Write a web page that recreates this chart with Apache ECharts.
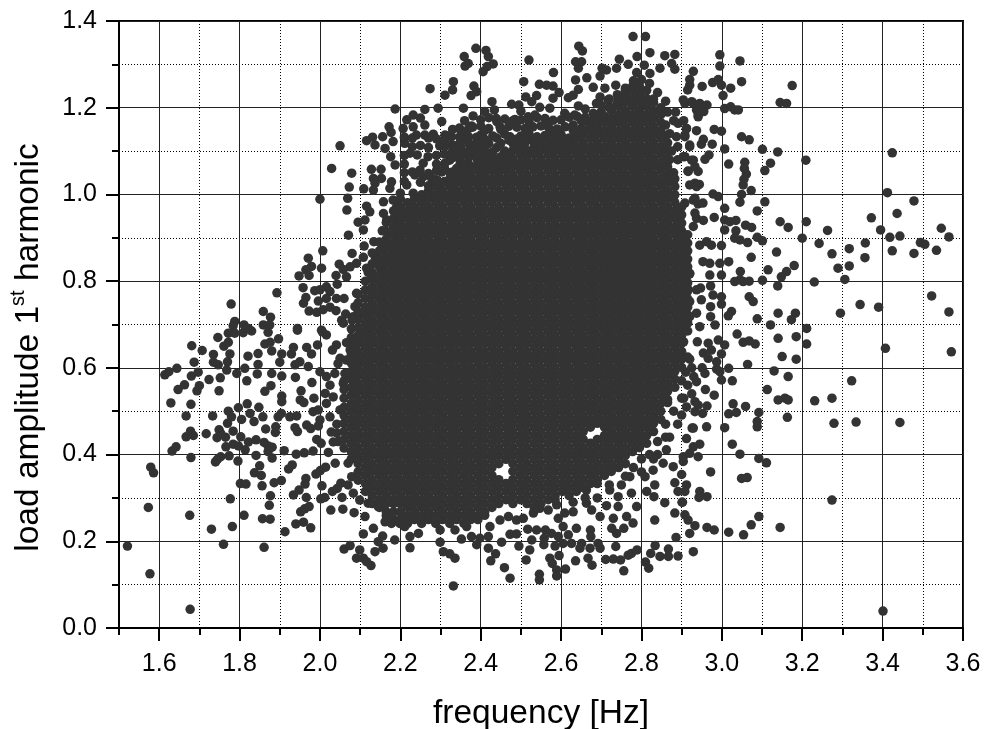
<!DOCTYPE html>
<html><head><meta charset="utf-8">
<script src="https://cdn.jsdelivr.net/npm/echarts@6/dist/echarts.min.js"></script>
<style>html,body{margin:0;padding:0;background:#fff}#c{width:984px;height:729px}</style>
</head><body><div id="c"></div>
<script>
const xMajorTicks=[1.6,1.8,2.0,2.2,2.4,2.6,2.8,3.0,3.2,3.4,3.6];
const leftBottom=[[1.521,.189],[1.577,.125],[1.677,.043],[1.573,.278],[1.676,.26],[1.579,.371],[1.586,.358],[1.73,.228],[1.782,.234],[1.76,.193],[1.777,.298],[1.811,.26],[1.861,.186],[1.857,.252],[1.876,.251],[1.874,.283],[1.877,.305],[1.913,.222],[1.94,.24],[1.959,.244],[1.977,.231],[1.952,.268],[1.962,.275],[1.973,.28],[1.934,.307],[1.948,.318],[1.966,.301],[1.965,.345],[1.963,.332],[1.99,.355],[2.001,.363],[2.014,.371],[2.005,.328],[2.002,.298],[2.012,.301],[2.027,.272],[2.057,.274],[2.085,.266],[2.031,.315],[2.043,.322],[2.052,.334],[2.055,.301],[1.904,.34],[1.886,.335],[1.856,.328],[1.802,.333],[1.816,.332],[1.837,.358],[1.854,.352],[1.85,.374],[1.922,.367],[1.931,.376],[1.881,.392],[1.841,.398],[1.796,.385],[1.774,.397],[1.753,.395],[1.74,.383],[1.745,.389],[1.679,.393],[2.06,.182],[2.075,.19],[2.099,.18],[2.091,.161],[2.108,.161],[2.127,.144],[2.116,.153],[2.137,.176],[2.157,.184],[2.186,.203],[2.108,.217],[2.133,.23],[2.145,.199],[2.156,.212],[2.162,.245],[2.178,.241],[2.112,.257],[2.199,.241],[2.07,.38],[2.079,.349],[2.07,.33],[2.095,.341],[2.083,.311],[2.099,.295],[2.12,.288],[2.145,.28],[2.038,.38]];
const leftMiddle=[[1.632,.408],[1.642,.418],[1.667,.441],[1.678,.454],[1.685,.444],[1.717,.448],[1.744,.439],[1.749,.457],[1.765,.44],[1.753,.449],[1.784,.424],[1.797,.42],[1.766,.418],[1.814,.411],[1.803,.441],[1.822,.429],[1.841,.434],[1.861,.428],[1.871,.42],[1.881,.417],[1.871,.407],[1.911,.409],[1.941,.401],[1.961,.404],[1.983,.408],[2.021,.405],[1.992,.435],[2.003,.426],[2.028,.452],[2.033,.429],[1.889,.451],[1.89,.464],[1.865,.459],[1.938,.462],[1.944,.453],[1.967,.468],[1.977,.46],[1.996,.466],[1.784,.454],[1.77,.472],[1.78,.487],[1.772,.5],[1.733,.489],[1.667,.489],[1.629,.519],[1.679,.516],[1.797,.508],[1.805,.481],[1.819,.517],[1.826,.495],[1.836,.476],[1.848,.509],[1.858,.487],[1.896,.487],[1.904,.495],[1.925,.487],[1.942,.489],[1.983,.499],[1.996,.503],[2.0,.48],[1.905,.535],[1.905,.522],[1.953,.547],[1.951,.526],[1.96,.52],[1.985,.53],[2.016,.518],[1.98,.566],[2.013,.541],[1.647,.55],[1.663,.561],[1.694,.547],[1.7,.559],[1.749,.547],[1.724,.573],[1.752,.577],[1.863,.546],[1.878,.559],[1.614,.584],[1.624,.591],[1.644,.599],[1.68,.581],[1.697,.59],[1.687,.613],[1.681,.651],[1.707,.64],[1.735,.631],[1.735,.613],[1.747,.607],[1.77,.614],[1.768,.595],[1.793,.587],[1.818,.57],[1.813,.599],[1.844,.586],[1.846,.608],[1.88,.587],[1.905,.581],[1.939,.578],[1.9,.613],[1.905,.632],[1.846,.633],[1.821,.627],[1.88,.639],[1.863,.655],[1.876,.659],[1.897,.667],[1.776,.632],[1.761,.65],[1.772,.659],[1.746,.67],[1.772,.68],[1.788,.68],[1.809,.681],[1.83,.685],[1.871,.682],[1.944,.687],[1.934,.647],[1.929,.632],[1.938,.607],[1.95,.614],[1.971,.603],[1.967,.647],[1.979,.632],[1.994,.653],[2.0,.591],[2.016,.58],[2.037,.587],[2.031,.641],[2.041,.653],[2.05,.622],[2.016,.676],[2.006,.683],[2.066,.658],[2.095,.668],[2.112,.68],[2.045,.61],[2.062,.587],[2.058,.564],[2.025,.56],[2.033,.533],[2.05,.503],[2.025,.487],[2.075,.641],[2.091,.657],[2.066,.618]];
const leftTop=[[2.187,1.197],[2.172,1.156],[2.177,1.143],[2.05,1.112],[2.116,1.124],[2.131,1.132],[2.137,1.114],[2.156,1.133],[2.162,1.106],[2.182,1.122],[2.176,1.087],[2.187,1.068],[2.029,1.06],[2.079,1.049],[2.128,1.058],[2.152,1.058],[2.133,1.037],[2.153,1.037],[2.137,1.026],[2.178,1.029],[2.073,1.017],[2.109,1.013],[2.133,1.01],[2.174,1.014],[2.0,.989],[2.069,.991],[2.067,.964],[2.116,.973],[2.124,.96],[2.158,.983],[2.182,.987],[2.191,.972],[2.095,.936],[2.112,.941],[2.108,.918],[2.158,.956],[2.166,.941],[2.187,.941],[2.155,.916],[2.184,.907],[2.071,.906],[2.007,.87],[2.11,.881],[2.134,.891],[2.153,.887],[2.08,.864],[1.971,.853],[2.004,.83],[1.979,.834],[1.965,.826],[1.948,.812],[1.973,.813],[2.048,.839],[2.108,.855],[2.091,.841],[2.075,.833],[2.058,.827],[2.04,.813],[2.116,.83],[2.137,.857],[1.958,.785],[1.893,.773],[1.779,.747],[1.987,.778],[2.016,.787],[2.0,.78],[2.025,.776],[2.043,.793],[2.066,.81],[2.091,.772],[1.965,.762],[1.959,.749],[1.996,.754],[2.016,.76],[2.041,.76],[2.06,.76],[1.973,.731],[1.992,.728],[2.008,.734],[2.025,.74],[2.04,.732],[2.087,.741],[1.859,.73],[1.877,.717],[2.064,.724],[2.054,.71],[2.058,.703],[2.083,.718],[1.788,.707],[1.784,.697],[1.811,.699],[1.822,.691],[1.859,.699],[1.875,.699],[1.944,.691],[2.004,.687]];
const rightTop=[[2.995,1.322],[3.045,1.308],[2.995,1.296],[2.929,1.284],[2.92,1.265],[2.92,1.252],[2.915,1.241],[2.951,1.249],[2.977,1.258],[2.991,1.265],[2.999,1.252],[3.022,1.245],[3.049,1.26],[3.175,1.251],[3.003,1.228],[3.145,1.212],[3.161,1.21],[3.007,1.198],[3.022,1.202],[3.032,1.195],[3.041,1.195],[2.945,1.21],[2.963,1.206],[2.955,1.191],[2.941,1.179],[2.937,1.195],[2.908,1.21],[2.925,1.214],[2.912,1.152],[2.937,1.147],[2.981,1.15],[2.999,1.146],[3.049,1.133],[3.068,1.126],[2.954,1.127],[2.908,1.133],[2.976,1.116],[2.949,1.116],[2.92,1.114],[3.007,1.105],[3.101,1.104],[3.139,1.098],[3.424,1.096],[3.209,1.079],[2.958,1.081],[2.968,1.091],[2.925,1.079],[2.908,1.087],[3.017,1.07],[3.057,1.074],[3.056,1.06],[3.121,1.072],[3.107,1.055],[3.061,1.047],[2.941,1.053],[2.916,1.054],[3.055,1.035],[3.053,1.022],[2.933,1.026],[2.944,1.023],[3.073,1.009],[3.049,1.0],[3.045,.982],[3.107,.983],[3.412,1.004],[3.478,.985],[3.436,.956],[3.088,.962],[3.007,.968],[2.978,1.001],[2.991,.995],[2.933,.991],[2.941,.978],[2.953,.98],[2.908,.98],[2.981,.947],[2.937,.945],[2.954,.94],[3.007,.941],[3.02,.937],[3.035,.94],[3.007,.918],[3.035,.916],[3.059,.929],[3.074,.924],[3.145,.937],[3.165,.924],[3.21,.937],[3.263,.917],[3.372,.946],[3.395,.918],[3.546,.922],[3.565,.902],[3.418,.901],[3.443,.904],[3.2,.899],[3.101,.893],[3.088,.901],[3.064,.889],[3.045,.895],[3.032,.899],[3.242,.887],[3.357,.888],[3.317,.875],[3.274,.863],[3.356,.854],[3.424,.87],[3.478,.864],[3.494,.889],[3.505,.885],[3.534,.871],[3.136,.867],[3.073,.855],[3.017,.845],[2.999,.882],[2.962,.891],[2.974,.883],[2.945,.883],[3.18,.836],[3.161,.822],[3.148,.81],[3.115,.826],[3.046,.822],[3.045,.803],[3.032,.799],[3.053,.799],[3.068,.8],[3.101,.802],[3.139,.789],[3.23,.798],[3.289,.83],[3.317,.835],[3.306,.804],[2.999,.814],[2.97,.814],[2.995,.841],[2.97,.841],[2.953,.845],[2.92,.817],[2.947,.784],[2.972,.789],[2.916,.781],[2.999,.764],[2.978,.768],[3.068,.764],[3.078,.753],[3.522,.766],[2.999,.747],[2.972,.741],[2.949,.757],[2.92,.753],[3.344,.746],[3.39,.74],[3.565,.729],[3.295,.726],[3.14,.726],[3.183,.726],[3.173,.711],[3.024,.73],[3.016,.72],[3.088,.713],[3.121,.699],[3.211,.691],[2.972,.718],[2.983,.699],[2.945,.695],[2.92,.718],[2.937,.726]];
const rightBottom=[[3.407,.645],[3.571,.637],[3.14,.668],[3.185,.672],[3.211,.655],[3.038,.678],[3.053,.659],[3.068,.662],[3.083,.655],[3.007,.653],[2.991,.664],[2.966,.657],[2.939,.66],[2.954,.634],[2.974,.641],[2.999,.632],[2.92,.62],[2.966,.622],[2.987,.614],[3.15,.626],[3.185,.62],[3.064,.608],[3.017,.599],[2.951,.6],[2.987,.597],[2.995,.591],[3.13,.593],[3.165,.58],[3.323,.57],[3.026,.57],[2.999,.572],[2.958,.587],[2.937,.568],[2.959,.55],[2.981,.537],[3.113,.55],[3.14,.526],[3.157,.53],[3.165,.526],[3.231,.524],[3.274,.53],[3.028,.517],[3.059,.511],[2.963,.512],[2.933,.522],[2.941,.514],[2.912,.51],[3.092,.497],[3.017,.494],[3.036,.497],[2.952,.495],[2.933,.499],[2.9,.491],[3.163,.486],[3.088,.476],[3.088,.464],[3.279,.472],[3.334,.475],[3.443,.474],[3.007,.462],[2.962,.464],[2.926,.461],[3.026,.424],[2.945,.424],[2.912,.437],[2.929,.418],[3.045,.401],[3.092,.391],[3.111,.381],[2.941,.395],[2.92,.403],[2.904,.384],[2.972,.36],[3.049,.345],[3.063,.347],[2.9,.354],[2.912,.33],[2.908,.315],[2.945,.315],[2.963,.303],[2.943,.301],[3.274,.295],[2.902,.29],[2.908,.261],[2.916,.249],[2.933,.236],[2.963,.232],[2.981,.226],[2.92,.218],[3.017,.221],[3.054,.215],[3.073,.238],[3.092,.257],[3.145,.232],[2.929,.176],[3.401,.039],[2.905,.66],[2.915,.625],[2.925,.6],[2.93,.58],[2.915,.56],[2.905,.53],[2.925,.54]];
const lowerEdge=[[2.332,.097],[2.224,.185],[2.299,.198],[2.307,.176],[2.323,.171],[2.336,.161],[2.352,.205],[2.39,.192],[2.419,.184],[2.437,.171],[2.425,.155],[2.452,.198],[2.459,.139],[2.473,.115],[2.495,.189],[2.513,.157],[2.522,.18],[2.527,.203],[2.546,.124],[2.546,.111],[2.572,.161],[2.578,.149],[2.589,.134],[2.589,.12],[2.595,.167],[2.611,.136],[2.636,.155],[2.557,.192],[2.585,.189],[2.605,.195],[2.626,.195],[2.651,.195],[2.647,.184],[2.672,.184],[2.692,.195],[2.697,.184],[2.667,.161],[2.677,.145],[2.711,.158],[2.73,.159],[2.736,.188],[2.748,.157],[2.767,.168],[2.775,.172],[2.789,.18],[2.756,.132],[2.81,.152],[2.818,.138],[2.823,.172],[2.834,.19],[2.846,.165],[2.867,.165],[2.867,.182],[2.891,.166],[2.886,.209],[2.833,.249],[2.883,.265],[2.858,.289],[2.901,.29],[2.831,.303],[2.813,.315],[2.833,.33],[2.891,.315],[2.883,.335],[2.448,.249],[2.469,.257],[2.489,.249],[2.506,.253],[2.473,.216],[2.489,.217],[2.517,.228],[2.539,.226],[2.561,.226],[2.576,.218],[2.558,.207],[2.531,.265],[2.547,.276],[2.568,.272],[2.589,.284],[2.593,.253],[2.609,.265],[2.63,.268],[2.605,.234],[2.618,.215],[2.638,.23],[2.593,.211],[2.673,.226],[2.674,.211],[2.663,.288],[2.676,.272],[2.697,.257],[2.713,.282],[2.73,.253],[2.726,.23],[2.738,.218],[2.756,.23],[2.763,.257],[2.779,.242],[2.742,.28],[2.775,.311],[2.788,.28],[2.721,.318],[2.742,.303],[2.771,.349],[2.809,.349],[2.663,.318],[2.365,.234],[2.377,.211],[2.398,.207],[2.419,.211],[2.336,.226],[2.299,.226],[2.245,.218],[2.224,.211],[2.211,.234],[2.423,.234],[2.862,.411],[2.904,.395],[2.929,.461],[2.829,.364],[2.854,.38],[2.879,.372],[2.86,.47],[2.88,.5],[2.9,.53],[2.89,.47],[2.87,.44],[2.84,.43],[2.82,.4],[2.8,.39],[2.78,.37],[2.76,.35],[2.9,.57],[2.91,.59],[2.8,.36],[2.84,.4],[2.75,.33],[2.72,.33],[2.69,.3],[2.66,.3],[2.63,.29],[2.86,.44],[2.83,.39]];
const upperEdge=[[2.388,1.337],[2.359,1.318],[2.369,1.302],[2.361,1.296],[2.413,1.332],[2.419,1.318],[2.431,1.301],[2.416,1.295],[2.406,1.283],[2.274,1.244],[2.332,1.26],[2.33,1.241],[2.311,1.229],[2.383,1.25],[2.39,1.237],[2.376,1.228],[2.294,1.199],[2.261,1.196],[2.357,1.199],[2.428,1.214],[2.434,1.195],[2.52,1.31],[2.507,1.26],[2.546,1.254],[2.564,1.252],[2.58,1.25],[2.581,1.281],[2.595,1.235],[2.512,1.225],[2.539,1.228],[2.527,1.214],[2.477,1.208],[2.495,1.206],[2.5,1.192],[2.547,1.201],[2.572,1.199],[2.58,1.222],[2.644,1.342],[2.653,1.331],[2.636,1.306],[2.651,1.306],[2.643,1.291],[2.636,1.264],[2.664,1.269],[2.618,1.223],[2.63,1.229],[2.643,1.242],[2.68,1.247],[2.697,1.273],[2.702,1.291],[2.713,1.287],[2.738,1.291],[2.745,1.312],[2.767,1.3],[2.779,1.364],[2.81,1.364],[2.821,1.327],[2.789,1.318],[2.807,1.298],[2.788,1.281],[2.858,1.32],[2.883,1.323],[2.875,1.302],[2.883,1.289],[2.846,1.291],[2.821,1.279],[2.736,1.252],[2.709,1.245],[2.697,1.225],[2.717,1.218],[2.688,1.21],[2.643,1.204],[2.609,1.187],[2.634,1.183],[2.697,1.187],[2.68,1.187],[2.216,1.172],[2.232,1.183],[2.25,1.176],[2.261,1.16],[2.232,1.156],[2.207,1.152],[2.303,1.168],[2.381,1.181],[2.41,1.191],[2.485,1.173],[2.518,1.179],[2.535,1.183],[2.347,1.153],[2.377,1.158],[2.439,1.175],[2.564,1.159],[2.593,1.145],[2.211,1.118],[2.24,1.137],[2.261,1.137],[2.282,1.139],[2.311,1.137],[2.298,1.112],[2.328,1.133],[2.328,1.114],[2.348,1.133],[2.224,1.095],[2.242,1.091],[2.269,1.087],[2.323,1.079],[2.336,1.087],[2.311,1.072],[2.257,1.072],[2.249,1.056],[2.236,1.045],[2.257,1.041],[2.303,1.052],[2.278,1.037],[2.216,1.022],[2.232,1.003],[2.269,.995],[2.369,1.099],[2.386,1.102],[2.348,1.068],[2.398,1.118],[2.448,1.156],[2.473,1.133],[2.527,1.126],[2.904,1.218],[2.929,1.21],[2.941,1.183],[2.891,1.164],[2.912,1.152],[2.887,1.133],[2.908,1.137],[2.92,1.11],[2.904,1.087],[2.929,1.079],[2.916,1.053],[2.933,1.064],[2.92,1.022],[2.937,1.018],[2.929,.987],[2.933,.957],[2.929,.926],[2.92,.818],[2.937,.78]];
const upperFill=[[2.32,1.135],[2.36,1.135],[2.4,1.137],[2.44,1.13],[2.46,1.139],[2.5,1.135],[2.52,1.14],[2.54,1.133],[2.56,1.136],[2.58,1.14],[2.6,1.138],[2.3,1.116],[2.34,1.113],[2.37,1.118],[2.39,1.115],[2.42,1.117],[2.44,1.108],[2.48,1.118],[2.51,1.118],[2.38,1.155],[2.4,1.158],[2.42,1.152],[2.47,1.157],[2.49,1.155],[2.51,1.152],[2.53,1.156],[2.55,1.158],[2.57,1.153],[2.61,1.156],[2.63,1.16],[2.65,1.17],[2.42,1.177],[2.46,1.174],[2.54,1.177],[2.56,1.175],[2.6,1.172],[2.62,1.178],[2.64,1.18],[2.66,1.178],[2.68,1.172],[2.7,1.19],[2.72,1.2],[2.74,1.21],[2.76,1.225],[2.66,1.197],[2.7,1.205],[2.72,1.22],[2.74,1.23],[2.76,1.245],[2.78,1.262],[2.8,1.265],[2.82,1.256],[2.84,1.235],[2.86,1.215],[2.21,1.03],[2.25,1.028],[2.29,1.034],[2.31,1.03],[2.33,1.036],[2.21,1.05],[2.23,1.052],[2.27,1.048],[2.29,1.055],[2.33,1.052],[2.35,1.05],[2.21,1.07],[2.29,1.07],[2.35,1.074],[2.37,1.07],[2.21,1.09],[2.29,1.09],[2.31,1.093],[2.37,1.086],[2.39,1.09],[2.41,1.085],[2.23,1.11],[2.25,1.113],[2.27,1.108],[2.31,1.11],[2.33,1.1],[2.35,1.11],[2.41,1.11],[2.21,1.132],[2.23,1.13],[2.27,1.13],[2.29,1.128],[2.37,1.133],[2.39,1.132],[2.43,1.135],[2.45,1.118],[2.88,1.05],[2.87,1.14],[2.86,1.16],[2.88,1.17],[2.885,1.19],[2.865,1.19],[2.89,1.08],[2.87,1.08],[2.905,1.17],[2.89,1.11],[2.875,1.1],[2.86,1.135],[2.34,1.1],[2.36,1.098],[2.38,1.102],[2.4,1.1],[2.43,1.098],[2.46,1.1],[2.49,1.103],[2.52,1.1],[2.55,1.102],[2.58,1.098],[2.6,1.1],[2.62,1.103],[2.31,1.125],[2.35,1.126],[2.39,1.122],[2.41,1.127],[2.47,1.125],[2.49,1.128],[2.51,1.124],[2.53,1.127],[2.55,1.123],[2.57,1.126],[2.59,1.124],[2.61,1.128],[2.63,1.125],[2.33,1.15],[2.35,1.148],[2.37,1.152],[2.41,1.147],[2.45,1.15],[2.59,1.151],[2.63,1.148],[2.65,1.152],[2.67,1.15],[2.36,1.17],[2.4,1.172],[2.44,1.168],[2.48,1.17],[2.5,1.172],[2.52,1.168],[2.58,1.171],[2.66,1.17],[2.7,1.172],[2.72,1.168],[2.33,1.085],[2.35,1.087],[2.39,1.083],[2.41,1.086],[2.43,1.084],[2.45,1.087],[2.47,1.085],[2.31,1.06],[2.37,1.058],[2.39,1.062],[2.41,1.06],[2.43,1.063],[2.45,1.058]];
const leftFill=[[2.095,.693],[2.095,.712],[2.095,.73],[2.095,.75],[2.095,.77],[2.113,.76],[2.113,.78],[2.113,.8],[2.13,.82],[2.13,.84],[2.148,.85],[2.148,.87],[2.148,.89],[2.165,.915],[2.165,.935],[2.078,.63],[2.078,.65],[2.078,.67],[2.06,.53],[2.06,.55],[2.06,.57],[2.042,.47],[2.042,.45],[2.045,.43],[2.095,.36],[2.078,.39],[2.06,.415],[2.078,.69],[2.08,.71],[2.13,.865],[2.12,.82]];
const coreFreq=[2.06,2.078,2.095,2.113,2.13,2.148,2.165,2.183,2.2,2.218,2.235,2.253,2.27,2.288,2.305,2.323,2.34,2.358,2.375,2.393,2.41,2.428,2.445,2.463,2.48,2.498,2.515,2.533,2.55,2.568,2.585,2.603,2.62,2.638,2.655,2.673,2.69,2.708,2.725,2.743,2.76,2.778,2.795,2.813,2.83,2.848,2.865,2.883,2.9,2.915];
const coreLoad=[
[.435,.453,.472,.49,.509],
[.407,.426,.444,.463,.481,.5,.518,.537,.555,.574,.592,.611],
[.379,.398,.416,.435,.453,.472,.49,.509,.527,.546,.564,.583,.601,.62,.638,.657,.675],
[.315,.333,.352,.37,.389,.407,.426,.444,.463,.481,.5,.518,.537,.555,.574,.592,.611,.629,.648,.666,.685,.703,.722,.74],
[.287,.305,.324,.342,.361,.379,.398,.416,.435,.453,.472,.49,.509,.527,.546,.564,.583,.601,.62,.638,.657,.675,.694,.712,.731,.749,.768,.786,.805],
[.278,.296,.315,.333,.352,.37,.389,.407,.426,.444,.463,.481,.5,.518,.537,.555,.574,.592,.611,.629,.648,.666,.685,.703,.722,.74,.759,.777,.796,.814,.833],
[.259,.268,.287,.305,.324,.342,.361,.379,.398,.416,.435,.453,.472,.49,.509,.527,.546,.564,.583,.601,.62,.638,.657,.675,.694,.712,.731,.749,.768,.786,.805,.823,.842,.86,.879,.897],
[.25,.268,.287,.296,.315,.333,.352,.37,.389,.407,.426,.444,.463,.481,.5,.518,.537,.555,.574,.592,.611,.629,.648,.666,.685,.703,.722,.74,.759,.777,.796,.814,.833,.851,.87,.888,.907,.925,.944,.962],
[.241,.25,.268,.287,.305,.324,.342,.361,.379,.398,.416,.435,.453,.472,.49,.509,.527,.546,.564,.583,.601,.62,.638,.657,.675,.694,.712,.731,.749,.768,.786,.805,.823,.842,.86,.879,.897,.916,.934,.953,.971,.99,1.003],
[.241,.259,.278,.296,.315,.333,.352,.37,.389,.407,.426,.444,.463,.481,.5,.518,.537,.555,.574,.592,.611,.629,.648,.666,.685,.703,.722,.74,.759,.777,.796,.814,.833,.851,.87,.888,.907,.925,.944,.962,.981],
[.25,.268,.287,.305,.324,.342,.361,.379,.398,.416,.435,.453,.472,.49,.509,.527,.546,.564,.583,.601,.62,.638,.657,.675,.694,.712,.731,.749,.768,.786,.805,.823,.842,.86,.879,.897,.916,.934,.953,.971,.99],
[.241,.259,.278,.296,.315,.333,.352,.37,.389,.407,.426,.444,.463,.481,.5,.518,.537,.555,.574,.592,.611,.629,.648,.666,.685,.703,.722,.74,.759,.777,.796,.814,.833,.851,.87,.888,.907,.925,.944,.962,.981,.999],
[.25,.268,.287,.305,.324,.342,.361,.379,.398,.416,.435,.453,.472,.49,.509,.527,.546,.564,.583,.601,.62,.638,.657,.675,.694,.712,.731,.749,.768,.786,.805,.823,.842,.86,.879,.897,.916,.934,.953,.971,.99,1.008,1.02],
[.241,.259,.278,.296,.315,.333,.352,.37,.389,.407,.426,.444,.463,.481,.5,.518,.537,.555,.574,.592,.611,.629,.648,.666,.685,.703,.722,.74,.759,.777,.796,.814,.833,.851,.87,.888,.907,.925,.944,.962,.981,.999,1.018,1.03],
[.25,.268,.287,.305,.324,.342,.361,.379,.398,.416,.435,.453,.472,.49,.509,.527,.546,.564,.583,.601,.62,.638,.657,.675,.694,.712,.731,.749,.768,.786,.805,.823,.842,.86,.879,.897,.916,.934,.953,.971,.99,1.008,1.027],
[.241,.259,.278,.296,.315,.333,.352,.37,.389,.407,.426,.444,.463,.481,.5,.518,.537,.555,.574,.592,.611,.629,.648,.666,.685,.703,.722,.74,.759,.777,.796,.814,.833,.851,.87,.888,.907,.925,.944,.962,.981,.999,1.018,1.036,1.05],
[.25,.268,.287,.305,.324,.342,.361,.379,.398,.416,.435,.453,.472,.49,.509,.527,.546,.564,.583,.601,.62,.638,.657,.675,.694,.712,.731,.749,.768,.786,.805,.823,.842,.86,.879,.897,.916,.934,.953,.971,.99,1.008,1.027,1.045,1.06],
[.241,.259,.278,.296,.315,.333,.352,.37,.389,.407,.426,.444,.463,.481,.5,.518,.537,.555,.574,.592,.611,.629,.648,.666,.685,.703,.722,.74,.759,.777,.796,.814,.833,.851,.87,.888,.907,.925,.944,.962,.981,.999,1.018,1.036,1.055,1.07],
[.25,.268,.287,.305,.324,.342,.361,.379,.398,.416,.435,.453,.472,.49,.509,.527,.546,.564,.583,.601,.62,.638,.657,.675,.694,.712,.731,.749,.768,.786,.805,.823,.842,.86,.879,.897,.916,.934,.953,.971,.99,1.008,1.027,1.045,1.064],
[.25,.259,.278,.296,.315,.333,.352,.37,.389,.407,.426,.444,.463,.481,.5,.518,.537,.555,.574,.592,.611,.629,.648,.666,.685,.703,.722,.74,.759,.777,.796,.814,.833,.851,.87,.888,.907,.925,.944,.962,.981,.999,1.018,1.036,1.055,1.073,1.09],
[.26,.268,.287,.305,.324,.342,.361,.379,.398,.416,.435,.453,.472,.49,.509,.527,.546,.564,.583,.601,.62,.638,.657,.675,.694,.712,.731,.749,.768,.786,.805,.823,.842,.86,.879,.897,.916,.934,.953,.971,.99,1.008,1.027,1.045,1.064,1.082,1.1],
[.278,.296,.315,.333,.352,.37,.389,.407,.426,.444,.463,.481,.5,.518,.537,.555,.574,.592,.611,.629,.648,.666,.685,.703,.722,.74,.759,.777,.796,.814,.833,.851,.87,.888,.907,.925,.944,.962,.981,.999,1.018,1.036,1.055,1.073,1.09],
[.287,.305,.324,.342,.379,.398,.416,.435,.453,.472,.49,.509,.527,.546,.564,.583,.601,.62,.638,.657,.675,.694,.712,.731,.749,.768,.786,.805,.823,.842,.86,.879,.897,.916,.934,.953,.971,.99,1.008,1.027,1.045,1.064,1.07],
[.296,.315,.333,.389,.407,.426,.444,.463,.481,.5,.518,.537,.555,.574,.592,.611,.629,.648,.666,.685,.703,.722,.74,.759,.777,.796,.814,.833,.851,.87,.888,.907,.925,.944,.962,.981,.999,1.018,1.036,1.055,1.073,1.09],
[.287,.305,.324,.342,.361,.379,.398,.416,.435,.453,.472,.49,.509,.527,.546,.564,.583,.601,.62,.638,.657,.675,.694,.712,.731,.749,.768,.786,.805,.823,.842,.86,.879,.897,.916,.934,.953,.971,.99,1.008,1.027,1.045,1.064,1.082,1.101],
[.296,.315,.333,.352,.37,.389,.407,.426,.444,.463,.481,.5,.518,.537,.555,.574,.592,.611,.629,.648,.666,.685,.703,.722,.74,.759,.777,.796,.814,.833,.851,.87,.888,.907,.925,.944,.962,.981,.999,1.018,1.036,1.055,1.073,1.092,1.11],
[.287,.305,.324,.342,.361,.379,.398,.416,.435,.453,.472,.49,.509,.527,.546,.564,.583,.601,.62,.638,.657,.675,.694,.712,.731,.749,.768,.786,.805,.823,.842,.86,.879,.897,.916,.934,.953,.971,.99,1.008,1.027,1.045,1.064,1.082,1.1],
[.27,.278,.296,.315,.333,.352,.37,.389,.407,.426,.444,.463,.481,.5,.518,.537,.555,.574,.592,.611,.629,.648,.666,.685,.703,.722,.74,.759,.777,.796,.814,.833,.851,.87,.888,.907,.925,.944,.962,.981,.999,1.018,1.036,1.055,1.073,1.092,1.11,1.12],
[.287,.305,.324,.342,.361,.379,.398,.416,.435,.453,.472,.49,.509,.527,.546,.564,.583,.601,.62,.638,.657,.675,.694,.712,.731,.749,.768,.786,.805,.823,.842,.86,.879,.897,.916,.934,.953,.971,.99,1.008,1.027,1.045,1.064,1.082,1.101,1.119],
[.296,.315,.333,.352,.37,.389,.407,.426,.444,.463,.481,.5,.518,.537,.555,.574,.592,.611,.629,.648,.666,.685,.703,.722,.74,.759,.777,.796,.814,.833,.851,.87,.888,.907,.925,.944,.962,.981,.999,1.018,1.036,1.055,1.073,1.092,1.11],
[.296,.305,.324,.342,.361,.379,.398,.416,.435,.453,.472,.49,.509,.527,.546,.564,.583,.601,.62,.638,.657,.675,.694,.712,.731,.749,.768,.786,.805,.823,.842,.86,.879,.897,.916,.934,.953,.971,.99,1.008,1.027,1.045,1.064,1.082,1.101,1.119,1.13],
[.315,.333,.352,.37,.389,.407,.426,.444,.463,.481,.5,.518,.537,.555,.574,.592,.611,.629,.648,.666,.685,.703,.722,.74,.759,.777,.796,.814,.833,.851,.87,.888,.907,.925,.944,.962,.981,.999,1.018,1.036,1.055,1.073,1.092,1.11,1.129],
[.305,.324,.342,.361,.379,.398,.416,.435,.453,.472,.49,.509,.527,.546,.564,.583,.601,.62,.638,.657,.675,.694,.712,.731,.749,.768,.786,.805,.823,.842,.86,.879,.897,.916,.934,.953,.971,.99,1.008,1.027,1.045,1.064,1.082,1.101,1.119,1.13],
[.315,.333,.352,.37,.389,.407,.426,.444,.463,.481,.5,.518,.537,.555,.574,.592,.611,.629,.648,.666,.685,.703,.722,.74,.759,.777,.796,.814,.833,.851,.87,.888,.907,.925,.944,.962,.981,.999,1.018,1.036,1.055,1.073,1.092,1.11,1.129,1.14],
[.324,.342,.361,.379,.398,.416,.435,.453,.472,.49,.509,.527,.546,.564,.583,.601,.62,.638,.657,.675,.694,.712,.731,.749,.768,.786,.805,.823,.842,.86,.879,.897,.916,.934,.953,.971,.99,1.008,1.027,1.045,1.064,1.082,1.101,1.119,1.138,1.15],
[.333,.352,.37,.389,.407,.426,.463,.481,.5,.518,.537,.555,.574,.592,.611,.629,.648,.666,.685,.703,.722,.74,.759,.777,.796,.814,.833,.851,.87,.888,.907,.925,.944,.962,.981,.999,1.018,1.036,1.055,1.073,1.092,1.11,1.129,1.147,1.16],
[.333,.342,.361,.379,.398,.416,.435,.472,.49,.509,.527,.546,.564,.583,.601,.62,.638,.657,.675,.694,.712,.731,.749,.768,.786,.805,.823,.842,.86,.879,.897,.916,.934,.953,.971,.99,1.008,1.027,1.045,1.064,1.082,1.101,1.119,1.138,1.156,1.17],
[.352,.37,.389,.407,.426,.444,.463,.481,.5,.518,.537,.555,.574,.592,.611,.629,.648,.666,.685,.703,.722,.74,.759,.777,.796,.814,.833,.851,.87,.888,.907,.925,.944,.962,.981,.999,1.018,1.036,1.055,1.073,1.092,1.11,1.129,1.147,1.166,1.18],
[.361,.379,.398,.416,.435,.453,.472,.49,.509,.527,.546,.564,.583,.601,.62,.638,.657,.675,.694,.712,.731,.749,.768,.786,.805,.823,.842,.86,.879,.897,.916,.934,.953,.971,.99,1.008,1.027,1.045,1.064,1.082,1.101,1.119,1.138,1.156,1.175,1.193,1.2],
[.37,.389,.407,.426,.444,.463,.481,.5,.518,.537,.555,.574,.592,.611,.629,.648,.666,.685,.703,.722,.74,.759,.777,.796,.814,.833,.851,.87,.888,.907,.925,.944,.962,.981,.999,1.018,1.036,1.055,1.073,1.092,1.11,1.129,1.147,1.166,1.184,1.203,1.22],
[.379,.398,.416,.435,.453,.472,.49,.509,.527,.546,.564,.583,.601,.62,.638,.657,.675,.694,.712,.731,.749,.768,.786,.805,.823,.842,.86,.879,.897,.916,.934,.953,.971,.99,1.008,1.027,1.045,1.064,1.082,1.101,1.119,1.138,1.156,1.175,1.193,1.212,1.23,1.24],
[.407,.426,.444,.463,.481,.5,.518,.537,.555,.574,.592,.611,.629,.648,.666,.685,.703,.722,.74,.759,.777,.796,.814,.833,.851,.87,.888,.907,.925,.944,.962,.981,.999,1.018,1.036,1.055,1.073,1.092,1.11,1.129,1.147,1.166,1.184,1.203,1.221,1.24,1.25],
[.416,.435,.453,.472,.49,.509,.527,.546,.564,.583,.601,.62,.638,.657,.675,.694,.712,.731,.749,.768,.786,.805,.823,.842,.86,.879,.897,.916,.934,.953,.971,.99,1.008,1.027,1.045,1.064,1.082,1.101,1.119,1.138,1.156,1.175,1.193,1.212,1.23,1.249],
[.426,.444,.463,.481,.5,.518,.537,.555,.574,.592,.611,.629,.648,.666,.685,.703,.722,.74,.759,.777,.796,.814,.833,.851,.87,.888,.907,.925,.944,.962,.981,.999,1.018,1.036,1.055,1.073,1.092,1.11,1.129,1.147,1.166,1.184,1.203,1.221,1.24],
[.453,.472,.49,.509,.527,.546,.564,.583,.601,.62,.638,.657,.675,.694,.712,.731,.749,.768,.786,.805,.823,.842,.86,.879,.897,.916,.934,.953,.971,.99,1.008,1.027,1.045,1.064,1.082,1.101,1.119,1.138,1.156,1.175,1.193,1.212,1.22],
[.481,.5,.518,.537,.555,.574,.592,.611,.629,.648,.666,.685,.703,.722,.74,.759,.777,.796,.814,.833,.851,.87,.888,.907,.925,.944,.962,.981,.999,1.018,1.036,1.055,1.073,1.092,1.11,1.129,1.147,1.166,1.184,1.2],
[.52,.527,.546,.564,.583,.601,.62,.638,.657,.675,.694,.712,.731,.749,.768,.786,.805,.823,.842,.86,.879,.897,.916,.934,.953,.971,.99,1.008,1.027,1.045,1.064,1.082,1.101,1.119],
[.555,.574,.592,.611,.629,.648,.666,.685,.703,.722,.74,.759,.777,.796,.814,.833,.851,.87,.888,.907,.925,.944,.962,.981,.999,1.018,1.036],
[.601,.62,.638,.657,.675,.694,.712,.731,.749,.768,.786,.805,.823,.842,.86,.879,.897,.916,.934,.953,.971],
[.685,.703,.722,.74,.759,.777,.796,.814,.833,.851,.87,.888,.907]
];
const points=[...leftBottom,...leftMiddle,...leftTop,...rightTop,...rightBottom,...lowerEdge,...upperEdge,...upperFill,...leftFill];
coreFreq.forEach((f,i)=>coreLoad[i].forEach(v=>points.push([f,v])));
const font='"Liberation Sans",Arial,sans-serif';
const chart=echarts.init(document.getElementById('c'),null,{renderer:'canvas'});
chart.setOption({
  animation:false,
  backgroundColor:'#fff',
  grid:{left:119,right:21,top:21,bottom:101,outerBoundsMode:'none',containLabel:false,show:true,borderColor:'#000',borderWidth:2,backgroundColor:'transparent'},
  xAxis:[
    {type:'value',min:1.5,max:3.6,interval:0.1,position:'bottom',
     axisLine:{show:true,onZero:false,lineStyle:{color:'#000',width:2}},
     axisTick:{show:true,length:7,lineStyle:{color:'#000',width:2}},
     axisLabel:{show:false},
     splitLine:{show:true,lineStyle:{color:'#000',width:1,type:[1,2]}}},
    {type:'value',min:1.5,max:3.6,position:'bottom',
     axisLine:{show:false,onZero:false},
     axisTick:{show:true,length:13,customValues:xMajorTicks,lineStyle:{color:'#000',width:2}},
     axisLabel:{show:true,customValues:xMajorTicks,margin:24,color:'#000',fontFamily:font,fontSize:25,formatter:v=>v.toFixed(1)},
     splitLine:{show:true,lineStyle:{color:'#222',width:1,type:'solid'}},
     name:'frequency [Hz]',nameLocation:'middle',nameGap:69,
     nameTextStyle:{color:'#000',fontFamily:font,fontSize:33.5}}
  ],
  yAxis:{type:'value',min:0,max:1.4,interval:0.2,
     axisLine:{show:true,onZero:false,lineStyle:{color:'#000',width:2}},
     axisTick:{show:true,length:13,lineStyle:{color:'#000',width:2}},
     minorTick:{show:true,splitNumber:2,length:7,lineStyle:{color:'#000',width:2}},
     axisLabel:{margin:22,color:'#000',fontFamily:font,fontSize:25,formatter:v=>v.toFixed(1)},
     splitLine:{show:true,lineStyle:{color:'#222',width:1,type:'solid'}},
     minorSplitLine:{show:true,lineStyle:{color:'#000',width:1,type:[1,2]}},
     name:'{a|load amplitude 1}{s|st}{a| harmonic}',nameLocation:'middle',nameGap:73,
     nameTextStyle:{padding:[0,46,0,0],rich:{a:{fontFamily:font,fontSize:33.5,color:'#000',verticalAlign:'bottom',lineHeight:38},s:{fontFamily:font,fontSize:20,color:'#000',verticalAlign:'top',lineHeight:38}}}},
  series:[{type:'scatter',xAxisIndex:0,yAxisIndex:0,data:points,symbol:'circle',symbolSize:9.5,
     itemStyle:{color:'#333333',opacity:1},large:false,progressive:0,silent:true,clip:false}]
});
</script></body></html>
